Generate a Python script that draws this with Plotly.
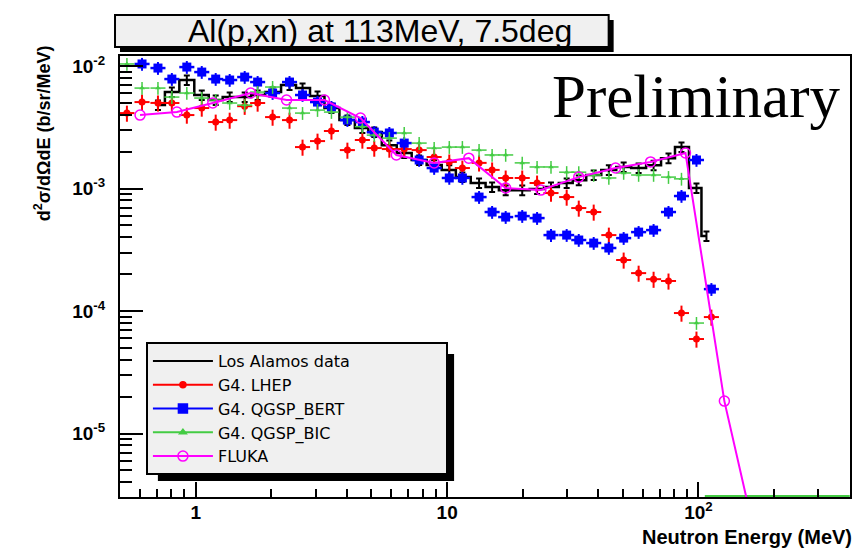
import numpy as np
import plotly.graph_objects as go

# ---------------- data ----------------
# Los Alamos measured data
LA_E = [0.707, 0.803, 0.921, 1.056, 1.20, 1.364, 1.565, 1.762, 2.021, 2.36, 2.659,
        3.05, 3.465, 4.01, 4.60, 5.13, 5.89, 6.75, 7.74, 8.88, 10.2, 11.5, 13.4,
        15.1, 17.1, 19.9, 22.8, 25.9, 29.9, 33.4, 38.3, 44.0, 50.4, 57.8, 66.3,
        76.0, 85.6, 98.2, 107.6]
LA_XS = [4.80e-3, 6.13e-3, 7.69e-3, 5.80e-3, 5.28e-3, 5.58e-3, 5.58e-3, 5.80e-3,
         6.13e-3, 7.00e-3, 6.61e-3, 5.69e-3, 4.54e-3, 3.62e-3, 3.12e-3, 2.89e-3,
         2.26e-3, 1.95e-3, 1.71e-3, 1.56e-3, 1.42e-3, 1.24e-3, 1.11e-3, 1.03e-3,
         9.7e-4, 9.7e-4, 9.9e-4, 1.03e-3, 1.11e-3, 1.17e-3, 1.29e-3, 1.42e-3,
         1.50e-3, 1.47e-3, 1.55e-3, 1.77e-3, 2.18e-3, 1.01e-3, 4.1e-4]

# G4 LHEP
LHEP_E = [0.532, 0.611, 0.707, 0.803, 0.921, 1.056, 1.20, 1.364, 1.565, 1.762,
          2.021, 2.36, 2.659, 3.05, 3.465, 4.01, 4.60, 5.13, 5.89, 6.75, 7.74,
          8.88, 10.2, 11.5, 13.4, 15.1, 17.1, 19.9, 22.8, 25.9, 29.9, 33.4, 38.3,
          44.0, 50.4, 57.8, 66.3, 76.0, 85.6, 98.2, 112.6]
LHEP_XS = [4.13e-3, 5.08e-3, 5.0e-3, 4.99e-3, 3.98e-3, 4.54e-3, 3.49e-3, 3.62e-3,
           4.7e-3, 4.99e-3, 3.83e-3, 3.62e-3, 2.18e-3, 2.44e-3, 2.95e-3, 2.06e-3,
           2.49e-3, 2.14e-3, 2.1e-3, 2.1e-3, 2.06e-3, 1.81e-3, 1.65e-3, 1.47e-3,
           1.62e-3, 1.42e-3, 1.22e-3, 1.22e-3, 1.11e-3, 9.19e-4, 8.52e-4, 6.93e-4,
           6.43e-4, 4.17e-4, 2.61e-4, 2.04e-4, 1.82e-4, 1.76e-4, 9.63e-5, 5.91e-5,
           8.93e-5]

# G4 QGSP_BERT
BERT_E = [0.611, 0.707, 0.803, 0.921, 1.056, 1.20, 1.364, 1.565, 1.762, 2.021,
          2.36, 2.659, 3.05, 3.465, 4.01, 4.60, 5.13, 5.89, 6.75, 7.74, 8.88,
          10.2, 11.5, 13.4, 15.1, 17.1, 19.9, 22.8, 25.9, 29.9, 33.4, 38.3, 44.0,
          50.4, 57.8, 66.3, 76.0, 85.6, 98.2, 112.6]
BERT_XS = [1.04e-2, 9.63e-3, 7.83e-3, 9.81e-3, 8.93e-3, 7.83e-3, 7.69e-3, 8.13e-3,
           7.40e-3, 6.02e-3, 7.40e-3, 5.80e-3, 5.08e-3, 4.63e-3, 3.62e-3, 3.49e-3,
           2.89e-3, 2.84e-3, 2.35e-3, 1.71e-3, 1.47e-3, 1.22e-3, 1.22e-3, 8.52e-4,
           6.43e-4, 5.85e-4, 5.96e-4, 5.74e-4, 4.17e-4, 4.17e-4, 3.80e-4, 3.59e-4,
           3.27e-4, 3.94e-4, 4.41e-4, 4.58e-4, 6.43e-4, 8.69e-4, 1.71e-3, 1.51e-4]

# G4 QGSP_BIC
BIC_E = [0.532, 0.611, 0.707, 0.803, 0.921, 1.056, 1.20, 1.364, 1.565, 1.762,
         2.021, 2.36, 2.659, 3.05, 3.465, 4.01, 4.60, 5.13, 5.89, 6.75, 7.74,
         8.88, 10.2, 11.5, 13.4, 15.1, 17.1, 19.9, 22.8, 25.9, 29.9, 33.4, 38.3,
         44.0, 50.4, 57.8, 66.3, 76.0, 85.6, 98.2]
BIC_XS = [1.04e-2, 6.61e-3, 6.61e-3, 5.58e-3, 6.02e-3, 5.48e-3, 5.28e-3, 4.99e-3,
          4.80e-3, 6.13e-3, 6.74e-3, 4.54e-3, 4.13e-3, 4.37e-3, 4.21e-3, 3.83e-3,
          3.2e-3, 2.73e-3, 2.58e-3, 2.84e-3, 2.35e-3, 2.14e-3, 2.18e-3, 2.18e-3,
          2.06e-3, 1.88e-3, 1.88e-3, 1.62e-3, 1.50e-3, 1.50e-3, 1.36e-3, 1.36e-3,
          1.29e-3, 1.22e-3, 1.34e-3, 1.29e-3, 1.29e-3, 1.24e-3, 1.20e-3, 7.98e-5]
# energy span where QGSP_BIC is zero (drawn on the axis floor)
BIC_ZERO_E = [106.0, 400.0]

# FLUKA
FLUKA_E = [0.60, 0.841, 1.168, 1.653, 2.297, 3.25, 4.52, 6.28, 8.88, 12.2, 17.1,
           23.6, 33.4, 46.8, 64.5, 88.8, 126.8, 181.0]
FLUKA_XS = [3.98e-3, 4.21e-3, 4.99e-3, 6.02e-3, 5.28e-3, 5.28e-3, 3.76e-3, 1.88e-3,
            1.62e-3, 1.77e-3, 1.01e-3, 9.72e-4, 1.24e-3, 1.47e-3, 1.65e-3, 1.95e-3,
            1.84e-5, 7.5e-7]

LEGEND_NAMES = ["Los Alamos data", "G4. LHEP", "G4. QGSP_BERT", "G4. QGSP_BIC", "FLUKA"]

# axis ranges (log10)
X_RANGE = [-0.3016, 2.603]
Y_RANGE = [-5.518, -1.918]
Y_FLOOR = 10 ** Y_RANGE[0]

TITLE = "Al(p,xn) at 113MeV, 7.5deg"

# ---------------- layout helpers ----------------
W, H = 862, 549
L, R, T, B = 120, 852, 56, 497


def pxx(x):
    return (x - L) / (R - L)


def pxy(y):
    return (B - y) / (B - T)


def half_bin(e, dec=0.03):
    e = np.asarray(e, dtype=float)
    return e * (10 ** dec - 1), e * (1 - 10 ** (-dec))


SANS = "Liberation Sans, Arial, Helvetica, sans-serif"
RED, BLUE, GREEN, MAG = "#ff0000", "#0000ff", "#44cc44", "#ff00ff"

fig = go.Figure()

# legend-only entries (line + marker like ROOT's legend)
legend_styles = [
    ("black", None, 0),
    (RED, "circle", 6),
    (BLUE, "square", 9),
    (GREEN, "triangle-up", 6),
    (MAG, "circle-open", 10),
]
for i, (name, (col, sym, size)) in enumerate(zip(LEGEND_NAMES, legend_styles)):
    label = name + ("\u00a0" * 19 if i == 2 else "")
    fig.add_trace(go.Scatter(
        x=[None], y=[None], name=label,
        mode="lines+markers" if sym else "lines",
        line=dict(color=col, width=2),
        marker=dict(symbol=sym or "circle", size=size, color=col,
                    line=dict(color=col, width=1.5)),
        showlegend=True))

# Los Alamos data
fig.add_trace(go.Scatter(
    x=LA_E, y=LA_XS, mode="lines", line=dict(color="black", width=2.5, shape="hvh"),
    error_y=dict(type="percent", value=9, color="black", thickness=2, width=3),
    showlegend=False))

# LHEP
ex_p, ex_m = half_bin(LHEP_E)
fig.add_trace(go.Scatter(
    x=LHEP_E, y=LHEP_XS, mode="markers",
    marker=dict(symbol="circle", size=7, color=RED),
    error_x=dict(type="data", array=ex_p, arrayminus=ex_m, color=RED, thickness=2, width=0),
    error_y=dict(type="percent", value=15, color=RED, thickness=2, width=0),
    showlegend=False))

# QGSP_BERT
ex_p, ex_m = half_bin(BERT_E)
fig.add_trace(go.Scatter(
    x=BERT_E, y=BERT_XS, mode="markers",
    marker=dict(symbol="square", size=9, color=BLUE),
    error_x=dict(type="data", array=ex_p, arrayminus=ex_m, color=BLUE, thickness=2.5, width=0),
    error_y=dict(type="percent", value=12, color=BLUE, thickness=2, width=0),
    showlegend=False))

# QGSP_BIC
ex_p, ex_m = half_bin(BIC_E)
fig.add_trace(go.Scatter(
    x=BIC_E, y=BIC_XS, mode="markers",
    marker=dict(symbol="triangle-up", size=5, color=GREEN),
    error_x=dict(type="data", array=ex_p, arrayminus=ex_m, color=GREEN, thickness=1.5, width=0),
    error_y=dict(type="percent", value=12, color=GREEN, thickness=1.5, width=0),
    showlegend=False))
fig.add_trace(go.Scatter(
    x=BIC_ZERO_E, y=[Y_FLOOR] * len(BIC_ZERO_E), mode="lines",
    line=dict(color=GREEN, width=4), showlegend=False))

# FLUKA
fig.add_trace(go.Scatter(
    x=FLUKA_E, y=FLUKA_XS, mode="lines+markers",
    line=dict(color=MAG, width=2),
    marker=dict(symbol="circle-open", size=10, color=MAG, line=dict(width=1.5)),
    showlegend=False))

x_minor = [k * 10 ** n for n in range(-1, 3) for k in range(2, 10)]
y_minor = [k * 10 ** n for n in range(-6, -1) for k in range(2, 10)]

fig.update_layout(
    width=W, height=H,
    margin=dict(l=L, r=W - R, t=T, b=H - B, pad=0),
    paper_bgcolor="white", plot_bgcolor="white",
    font=dict(family=SANS, color="black"),
    xaxis=dict(
        type="log", range=X_RANGE, showgrid=False, zeroline=False,
        showline=True, linecolor="black", linewidth=2, mirror=True,
        ticks="inside", ticklen=15, tickwidth=1.5, tickcolor="black",
        tickmode="array", tickvals=[1, 10, 100],
        ticktext=["<b>1</b>", "<b>10</b>", "<b>10<sup>2</sup></b>"],
        tickfont=dict(size=19, family=SANS), ticklabelstandoff=-3,
        minor=dict(ticks="inside", ticklen=8, tickwidth=1.5, tickcolor="black",
                   tickmode="array", tickvals=x_minor, showgrid=False),
    ),
    yaxis=dict(
        type="log", range=Y_RANGE, showgrid=False, zeroline=False,
        showline=True, linecolor="black", linewidth=2, mirror=True,
        ticks="inside", ticklen=23, tickwidth=1.5, tickcolor="black",
        tickmode="array", tickvals=[1e-5, 1e-4, 1e-3, 1e-2],
        ticktext=["<b>10<sup>-5</sup></b>", "<b>10<sup>-4</sup></b>",
                  "<b>10<sup>-3</sup></b>", "<b>10<sup>-2</sup></b>"],
        tickfont=dict(size=19, family=SANS), ticklabelstandoff=9,
        minor=dict(ticks="inside", ticklen=12, tickwidth=1.5, tickcolor="black",
                   tickmode="array", tickvals=y_minor, showgrid=False),
    ),
    legend=dict(
        x=pxx(146), y=pxy(342), xanchor="left", yanchor="top",
        bgcolor="#f0f0f0", bordercolor="black", borderwidth=2,
        font=dict(family="DejaVu Sans, Liberation Sans, sans-serif", size=16, color="black"),
        itemwidth=60, tracegroupgap=0, traceorder="normal",
    ),
    shapes=[
        # title box shadow + box
        dict(type="rect", xref="paper", yref="paper", x0=pxx(120), x1=pxx(615),
             y0=pxy(52), y1=pxy(20), fillcolor="black", line=dict(width=0), layer="above"),
        dict(type="rect", xref="paper", yref="paper", x0=pxx(115), x1=pxx(610),
             y0=pxy(47), y1=pxy(15), fillcolor="#f0f0f0", line=dict(color="black", width=2),
             layer="above"),
        # legend shadow
        dict(type="rect", xref="paper", yref="paper", x0=pxx(158), x1=pxx(455),
             y0=pxy(481), y1=pxy(354), fillcolor="black", line=dict(width=0), layer="above"),
    ],
    annotations=[
        dict(text=TITLE, xref="paper", yref="paper", x=pxx(381), y=pxy(31),
             xanchor="center", yanchor="middle", showarrow=False,
             font=dict(family=SANS, size=32, color="black")),
        dict(text="Preliminary", xref="paper", yref="paper", x=pxx(698), y=pxy(96),
             xanchor="center", yanchor="middle", showarrow=False,
             font=dict(family="Liberation Serif, Times New Roman, serif", size=61, color="black")),
        dict(text="<b>d<sup>2</sup>σ/dΩdE (b/sr/MeV)</b>", xref="paper", yref="paper",
             x=pxx(42), y=pxy(133), xanchor="center", yanchor="middle", textangle=-90,
             showarrow=False, font=dict(family=SANS, size=18, color="black")),
        dict(text="<b>Neutron Energy (MeV)</b>", xref="paper", yref="paper",
             x=pxx(856), y=pxy(537), xanchor="right", yanchor="middle", showarrow=False,
             font=dict(family=SANS, size=20, color="black")),
    ],
)

fig.write_html("out.html", post_script="document.body.style.margin='0';",
               config={"displayModeBar": False})
